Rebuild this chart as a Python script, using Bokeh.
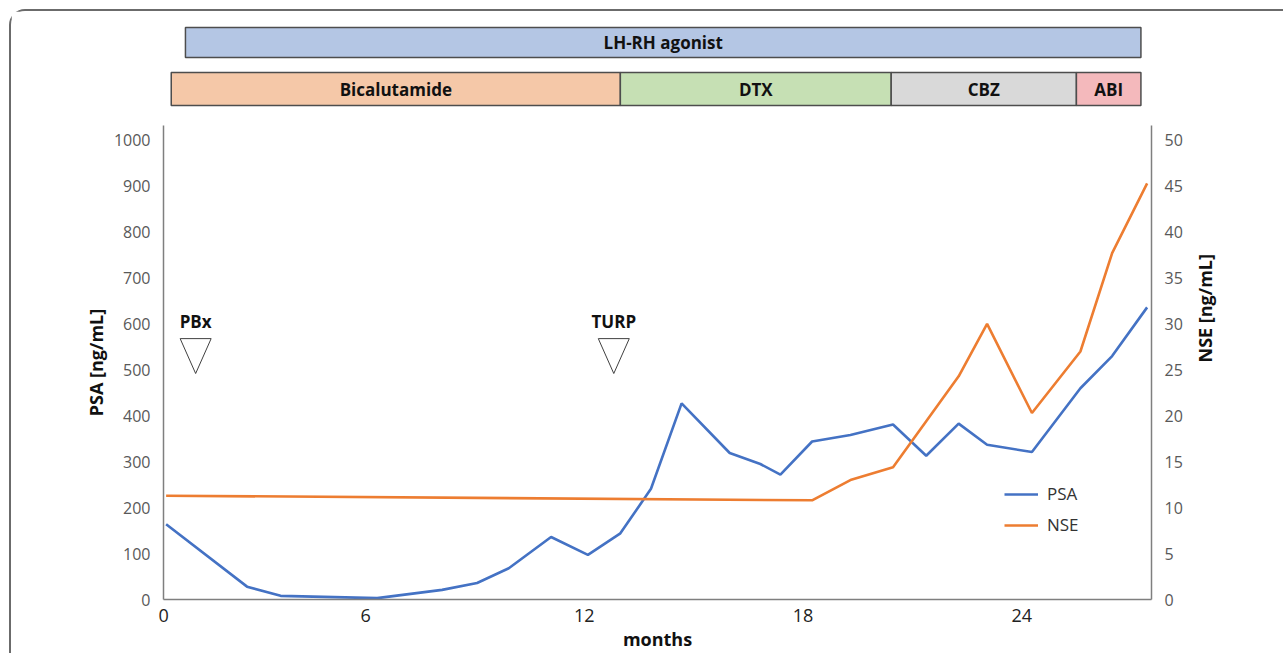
import math
from bokeh.plotting import figure
from bokeh.models import (Range1d, LinearAxis, FixedTicker, Legend, LegendItem)
from bokeh.layouts import column
from bokeh.embed import file_html
from bokeh.resources import INLINE
from bokeh.core.properties import value

# ---------------- data ----------------
psa_months = [0.53, 2.75, 3.67, 6.32, 8.10, 9.06, 9.93, 11.09, 12.10, 12.99, 13.83,
              14.67, 15.99, 16.83, 17.38, 18.25, 19.30, 20.47, 21.38, 22.27, 23.05,
              24.28, 25.61, 26.48, 27.44]
psa_values = [164, 28, 8, 3, 21, 36, 68, 136, 97, 144, 241,
              427, 319, 295, 272, 344, 358, 381, 313, 383, 337,
              321, 460, 530, 636]

nse_months = [0.53, 18.25, 19.30, 20.47, 21.38, 22.27, 23.05, 24.28, 25.61, 26.48, 27.44]
nse_values = [11.3, 10.8, 13.0, 14.4, 19.4, 24.3, 30.0, 20.3, 27.0, 37.7, 45.3]

x_ticks = [0, 6, 12, 18, 24]
x_tick_labels = ["0", "6", "12", "18", "24"]
psa_ticks = list(range(0, 1001, 100))
nse_ticks = list(range(0, 51, 5))

lhrh_labels = ["LH-RH agonist"]
lhrh_start = [1.06]
lhrh_end = [27.27]

drug_labels = ["Bicalutamide", "DTX", "CBZ", "ABI"]
drug_start = [0.67, 12.99, 20.42, 25.50]
drug_end = [12.99, 20.42, 25.50, 27.27]

event_labels = ["PBx", "TURP"]
event_months = [1.34, 12.81]

# ---------------- styling ----------------
FONT = "Open Sans"
BLUE = "#4472c4"
ORANGE = "#ed7d31"
LHRH_COLOR = "#b4c6e4"
DRUG_COLORS = ["#f5c8a8", "#c6e0b4", "#d9d9d9", "#f4b9bc"]
AXIS_COLOR = "#7f7f7f"
TICK_COLOR = "#595959"

W = 1272
LEFT = 152
FRAME_W = 988
RIGHT = W - LEFT - FRAME_W

X_START, X_END = 0.458, 27.56
x_range = Range1d(X_START, X_END)

# the "0" month tick lies just left of the frame; it is shown at the frame edge
tick_pos = [max(t, X_START + 0.002) for t in x_ticks]
tick_overrides = {pos: lab for pos, lab in zip(tick_pos, x_tick_labels)}

# ---------------- top therapy bars ----------------
top = figure(width=W, height=107, x_range=x_range, y_range=Range1d(107, 0),
             output_backend="svg", toolbar_location=None,
             x_axis_location=None, y_axis_location=None,
             min_border_left=LEFT, min_border_right=RIGHT,
             min_border_top=0, min_border_bottom=0)
top.grid.visible = False
top.outline_line_color = None

top.quad(left=lhrh_start, right=lhrh_end, top=[16], bottom=[46],
         fill_color=LHRH_COLOR, line_color="#4d4d4d", line_width=1.5)
top.text(x=[(a + b) / 2 for a, b in zip(lhrh_start, lhrh_end)], y=[31], text=lhrh_labels,
         text_align="center", text_baseline="middle", text_font=value(FONT),
         text_font_style="bold", text_font_size="17px", text_color="#111111")

top.quad(left=drug_start, right=drug_end, top=[61] * len(drug_labels),
         bottom=[94] * len(drug_labels), fill_color=DRUG_COLORS,
         line_color="#4d4d4d", line_width=1.5)
top.text(x=[(a + b) / 2 for a, b in zip(drug_start, drug_end)], y=[78] * len(drug_labels),
         text=drug_labels, text_align="center", text_baseline="middle",
         text_font=value(FONT), text_font_style="bold", text_font_size="17px",
         text_color="#111111")

# ---------------- main chart ----------------
p = figure(width=W, height=535, x_range=x_range, y_range=Range1d(0, 1032),
           output_backend="svg", toolbar_location=None,
           min_border_left=LEFT, min_border_right=RIGHT,
           min_border_top=7, min_border_bottom=52)
p.grid.visible = False
p.outline_line_color = None
p.extra_y_ranges = {"nse": Range1d(0, 51.6)}

r_psa = p.line(psa_months, psa_values, line_color=BLUE, line_width=2.6)
r_nse = p.line(nse_months, nse_values, y_range_name="nse", line_color=ORANGE, line_width=2.6)

# x axis
xa = p.xaxis[0]
xa.ticker = FixedTicker(ticks=tick_pos)
xa.major_label_overrides = tick_overrides
xa.axis_label = "months"
xa.axis_label_text_font = FONT
xa.axis_label_text_font_style = "bold"
xa.axis_label_text_font_size = "18px"
xa.axis_label_text_color = "#111111"
xa.axis_label_standoff = 2
xa.major_label_text_font = FONT
xa.major_label_text_font_size = "18px"
xa.major_label_text_color = "#222222"
xa.major_label_standoff = 9

# left y axis
ya = p.yaxis[0]
ya.ticker = FixedTicker(ticks=psa_ticks)
ya.axis_label = "PSA [ng/mL]"
ya.axis_label_standoff = 3

# right y axis
ra = LinearAxis(y_range_name="nse", ticker=FixedTicker(ticks=nse_ticks),
                axis_label="NSE [ng/mL]")
ra.axis_label_standoff = 19
try:
    ra.axis_label_orientation = math.pi / 2
except Exception:
    pass
p.add_layout(ra, "right")

for ax in (ya, ra):
    ax.axis_label_text_font = FONT
    ax.axis_label_text_font_style = "bold"
    ax.axis_label_text_font_size = "18px"
    ax.axis_label_text_color = "#111111"
    ax.major_label_text_font = FONT
    ax.major_label_text_font_size = "16px"
    ax.major_label_text_color = TICK_COLOR
    ax.major_label_standoff = 13

for ax in (xa, ya, ra):
    ax.axis_line_color = AXIS_COLOR
    ax.axis_line_width = 1.5
    ax.major_tick_line_color = None
    ax.minor_tick_line_color = None
    ax.major_tick_out = 0
    ax.major_tick_in = 0

# event markers (open inverted triangles with labels)
tri_half = 0.425
tri_top, tri_apex = 568, 492
p.patches(xs=[[m - tri_half, m + tri_half, m] for m in event_months],
          ys=[[tri_top, tri_top, tri_apex] for _ in event_months],
          fill_color="white", line_color="#404040", line_width=1)
p.text(x=event_months, y=[606] * len(event_months), text=event_labels,
       text_align="center", text_baseline="middle", text_font=value(FONT),
       text_font_style="bold", text_font_size="17px", text_color="#111111")

legend = Legend(items=[LegendItem(label="PSA", renderers=[r_psa]),
                       LegendItem(label="NSE", renderers=[r_nse])],
                location=(841, 63), orientation="vertical",
                glyph_width=34, glyph_height=20, label_height=20, spacing=8,
                padding=0, margin=0, label_standoff=9,
                border_line_color=None, background_fill_alpha=0,
                label_text_font=FONT, label_text_font_size="17px",
                label_text_color="#333333")
p.add_layout(legend)

layout = column(top, p, styles={"border-top": "2px solid #6b6b6b",
                                "border-left": "2px solid #6b6b6b",
                                "border-top-left-radius": "16px",
                                "margin-left": "9px", "margin-top": "9px"})

open("out.html", "w").write(file_html(layout, INLINE))
